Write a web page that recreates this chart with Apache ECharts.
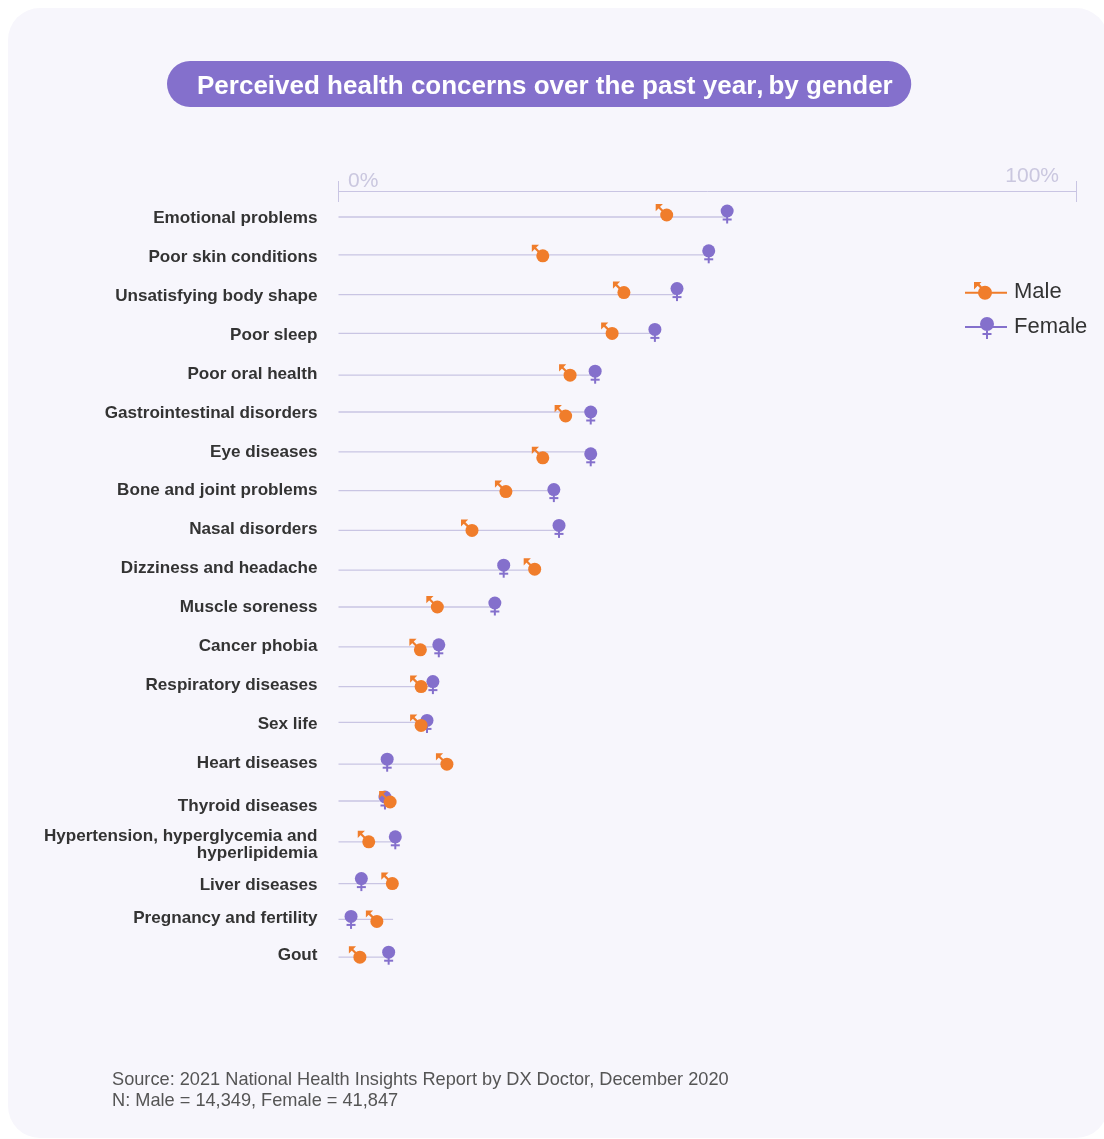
<!DOCTYPE html>
<html><head><meta charset="utf-8">
<style>html,body{margin:0;padding:0;background:#fff}#c{width:1104px;height:1139px}</style>
<script src="https://cdn.jsdelivr.net/npm/echarts@6/dist/echarts.min.js"></script>
</head><body><div id="c"></div>
<script>
const categories = ['Emotional problems','Poor skin conditions','Unsatisfying body shape','Poor sleep','Poor oral health','Gastrointestinal disorders','Eye diseases','Bone and joint problems','Nasal disorders','Dizziness and headache','Muscle soreness','Cancer phobia','Respiratory diseases','Sex life','Heart diseases','Thyroid diseases','Hypertension, hyperglycemia and\nhyperlipidemia','Liver diseases','Pregnancy and fertility','Gout'];
const maleValues = [44.5,27.7,38.7,37.1,31.4,30.8,27.7,22.7,18.1,26.6,13.4,11.1,11.2,11.2,14.7,7.0,4.1,7.3,5.2,2.9];
const femaleValues = [52.7,50.2,45.9,42.9,34.8,34.2,34.2,29.2,29.9,22.4,21.2,13.6,12.8,12.0,6.6,6.3,7.7,3.1,1.7,6.8];
const lineExtent = [52.7,50.2,45.9,42.9,34.8,34.2,34.2,29.2,29.9,26.6,21.2,13.6,12.8,11.2,14.7,5.6,7.7,7.3,7.4,6.8];
const tickValues = [0,100];
const tickLabels = ['0%','100%'];
const seriesNames = ['Male','Female'];

// hand-placement quirks of the original layout, in pixels, kept apart from the data
const lineNudge = [0,-1,0,0,3,1,2,2,3,4,2,3,4,1,4,2,4,7,4,3];
const maleNudge = [-2,1,-2,0,0,4,6,1,0,-1,0,3,0,3,0,1,0,0,2,0];
const femaleNudge = [-6,-4,-6,-4,-4,0,2,-1,-5,-5,-4,-2,-5,-2,-5,-4,-5,-5,-3,-5];
const labelNudge = [1,1,2,2,2,2,2,2,2,2,2,2,3,3,3,7,7,9,3,1];

const ORANGE='#f07d2b', PURPLE='#8470cc', RULE='#c9c5e3', FONT='"Liberation Sans", Arial, sans-serif';

function maleGlyph(x,y){
  return {type:'group',x:x,y:y,children:[
    {type:'line',shape:{x1:0,y1:0,x2:-9,y2:-9},style:{stroke:ORANGE,lineWidth:2.2}},
    {type:'polygon',shape:{points:[[-11,-11],[-3.8,-11],[-11,-3.8]]},style:{fill:ORANGE}},
    {type:'circle',shape:{cx:0,cy:0,r:6.5},style:{fill:ORANGE}}
  ]};
}
function femaleGlyph(x,y){
  return {type:'group',x:x,y:y,children:[
    {type:'line',shape:{x1:0,y1:0,x2:0,y2:12.5},style:{stroke:PURPLE,lineWidth:2}},
    {type:'line',shape:{x1:-4.5,y1:8.5,x2:4.5,y2:8.5},style:{stroke:PURPLE,lineWidth:2}},
    {type:'circle',shape:{cx:0,cy:0,r:6.5},style:{fill:PURPLE}}
  ]};
}
const maleIcon='path://M0 0L0 0.01M42 24L42 23.99M0 11.8H42V13.8H0ZM27 12.8A7 7 0 1 1 13 12.8A7 7 0 1 1 27 12.8ZM9 2H16.5L9 9.5ZM11 4L13 2L21 11.8L19.5 12.8Z';
const femaleIcon='path://M0 0L0 0.01M42 24L42 23.99M0 11H42V13H0ZM29 9A7 7 0 1 1 15 9A7 7 0 1 1 29 9ZM21 9H23V24H21ZM17.5 18H26.5V20H17.5Z';

const chart = echarts.init(document.getElementById('c'),null,{renderer:'canvas'});
chart.setOption({
  animation:false,
  backgroundColor:'#ffffff',
  graphic:[
    {type:'rect',z:-10,shape:{x:8,y:8,width:1100,height:1130,r:32},style:{fill:'#f7f6fc'}}
  ],
  title:[
    {left:167,top:60,padding:[13,18.5,7,30],backgroundColor:PURPLE,borderRadius:23,
     text:'{b|Perceived health concerns over the past year}{n|,} {b|by gender}',
     textStyle:{rich:{b:{fontFamily:FONT,fontSize:26,fontWeight:'bold',color:'#fff',lineHeight:28},n:{fontFamily:FONT,fontSize:26,color:'#fff',lineHeight:28}}}},
    {left:112,top:1070,padding:0,text:'Source: 2021 National Health Insights Report by DX Doctor, December 2020\nN: Male = 14,349, Female = 41,847',
     textStyle:{fontFamily:FONT,fontSize:18.2,fontWeight:'normal',color:'#555555',lineHeight:20.5}}
  ],
  legend:{
    orient:'vertical',left:960,top:275,itemWidth:42,itemHeight:24,itemGap:11,
    selectedMode:false,
    textStyle:{fontFamily:FONT,fontSize:22,color:'#333333',padding:[0,0,0,2]},
    data:[{name:seriesNames[0],icon:maleIcon},{name:seriesNames[1],icon:femaleIcon}]
  },
  grid:{left:338.5,right:28,top:197.6,height:776,containLabel:false},
  xAxis:[
    {type:'value',position:'top',offset:6.6,min:0,max:100,interval:100,
     axisLine:{show:true,lineStyle:{color:RULE,width:1}},
     axisTick:{show:true,length:10,lineStyle:{color:RULE,width:1}},
     axisLabel:{show:false},splitLine:{show:false}},
    {type:'value',position:'top',offset:6.6,min:0,max:100,interval:100,
     axisLine:{show:false},
     axisTick:{show:true,inside:true,length:11,lineStyle:{color:RULE,width:1}},
     axisLabel:{show:false},splitLine:{show:false}}
  ],
  yAxis:{type:'category',inverse:true,data:categories,
    axisLine:{show:false},axisTick:{show:false},axisLabel:{show:false},splitLine:{show:false}},
  series:[
    {type:'custom',name:'rows',coordinateSystem:'cartesian2d',clip:false,silent:true,z:2,
     data:categories.map((c,i)=>[lineExtent[i],i]),encode:{x:0,y:1},
     renderItem(p,api){
       const i=p.dataIndex, a=api.coord([0,i]), b=api.coord([api.value(0),i]);
       return {type:'group',children:[
         {type:'line',shape:{x1:a[0],y1:a[1]+lineNudge[i],x2:b[0],y2:a[1]+lineNudge[i]},style:{stroke:RULE,lineWidth:1.3}},
         {type:'text',x:a[0]-21,y:a[1]+labelNudge[i],style:{text:categories[i],align:'right',verticalAlign:'middle',
           font:'bold 17.1px '+FONT,fill:'#333333',lineHeight:17}}
       ]};
     }},
    {type:'custom',name:'ticks',coordinateSystem:'cartesian2d',clip:false,silent:true,z:2,
     data:tickValues.map((v,i)=>[v,0]),encode:{x:0,y:1},
     renderItem(p,api){
       const i=p.dataIndex, a=api.coord([api.value(0),0]);
       return {type:'text',x:a[0]+(i===0?9.5:-17),y:a[1]-(i===0?36:41),style:{text:tickLabels[i],align:i===0?'left':'right',verticalAlign:'middle',
         font:'21px '+FONT,fill:'#cac7df'}};
     }},
    {type:'custom',name:seriesNames[1],coordinateSystem:'cartesian2d',clip:false,silent:true,z:3,
     itemStyle:{color:PURPLE},
     data:femaleValues.map((v,i)=>[v,i]),encode:{x:0,y:1},
     renderItem(p,api){
       const i=p.dataIndex, a=api.coord([api.value(0),i]);
       return femaleGlyph(a[0],a[1]+lineNudge[i]+femaleNudge[i]);
     }},
    {type:'custom',name:seriesNames[0],coordinateSystem:'cartesian2d',clip:false,silent:true,z:4,
     itemStyle:{color:ORANGE},
     data:maleValues.map((v,i)=>[v,i]),encode:{x:0,y:1},
     renderItem(p,api){
       const i=p.dataIndex, a=api.coord([api.value(0),i]);
       return maleGlyph(a[0],a[1]+lineNudge[i]+maleNudge[i]);
     }}
  ]
});
</script></body></html>
